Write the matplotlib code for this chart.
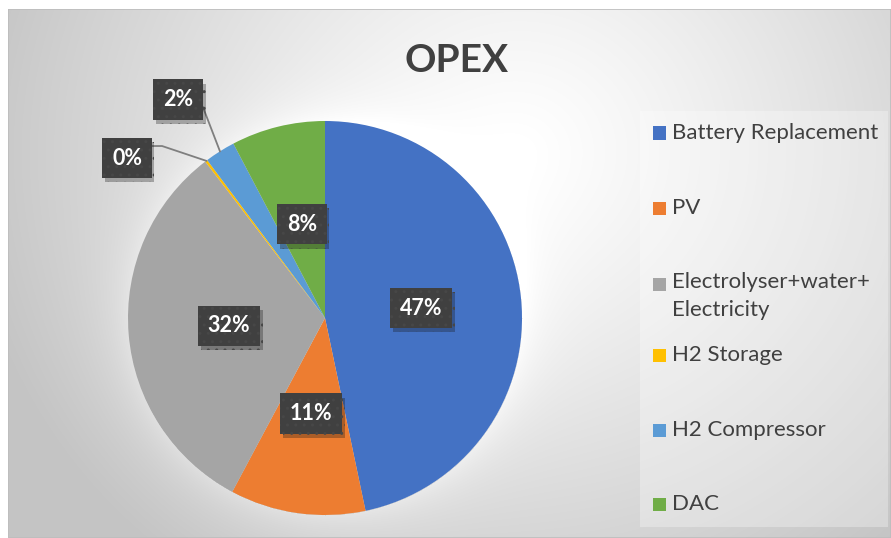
import numpy as np
import matplotlib
matplotlib.use("Agg")
import matplotlib.pyplot as plt
from matplotlib.patches import Rectangle
import matplotlib.patheffects as pe

plt.rcParams['font.family'] = ['Lato', 'DejaVu Sans']

# ---- data ----
categories = ["Battery Replacement", "PV", "Electrolyser+water+\nElectricity",
              "H2 Storage", "H2 Compressor", "DAC"]
values = [46.7, 11.1, 31.8, 0.2, 2.5, 7.7]
pct_labels = ["47%", "11%", "32%", "0%", "2%", "8%"]
colors = ["#4472C4", "#ED7D31", "#A5A5A5", "#FFC000", "#5B9BD5", "#70AD47"]
title = "OPEX"

W, H = 891, 538
fig = plt.figure(figsize=(W / 100, H / 100), dpi=100)
fig.patch.set_facecolor("white")

# ---- background (chart area with radial gradient) ----
bx0, by0, bx1, by1 = 8, 9, 891, 538
bg = fig.add_axes([bx0 / W, 1 - by1 / H, (bx1 - bx0) / W, (by1 - by0) / H])
bg.set_axis_off()
yy, xx = np.mgrid[by0:by1, bx0:bx1].astype(float)
cx, cy = 520, 150
t = np.sqrt(((xx - cx) / 560) ** 2 + ((yy - cy) / 520) ** 2)
t = np.clip(t, 0, 1)
g = 1.0 - (1.0 - 0.77) * t ** 1.2
pcx, pcy, pr = 325, 318, 197
d = np.sqrt((xx - pcx) ** 2 + (yy - pcy) ** 2) - pr
halo = np.exp(-np.clip(d, 0, None) / 25.0) * (d > 0) * 0.06
g = np.clip(g + halo, 0, 1)
img = np.dstack([g, g, g])
bg.imshow(img, extent=[0, 1, 0, 1], aspect="auto", origin="upper",
          interpolation="bilinear")
bg.add_patch(Rectangle((0, 0), 1, 1, transform=bg.transAxes, fill=False,
                       edgecolor="#bdbdbd", linewidth=1.2))
bg.set_xlim(0, 1)
bg.set_ylim(0, 1)

# ---- pie ----
ax = fig.add_axes([(pcx - pr) / W, 1 - (pcy + pr) / H, 2 * pr / W, 2 * pr / H])
wedges, _ = ax.pie(values, colors=colors, startangle=90, counterclock=False,
                   radius=1.0, wedgeprops=dict(linewidth=0))
ax.set_xlim(-1, 1)
ax.set_ylim(-1, 1)
ax.set_aspect("equal")
ax.set_axis_off()

box = dict(boxstyle="square,pad=0.45", facecolor="#404040", edgecolor="#474747",
           hatch="..", linewidth=0)

def label_box(x, y, s):
    txt = ax.text(x, y, s, ha="center", va="center", color="white",
                  fontsize=15.5, fontweight="bold", bbox=box, zorder=5)
    txt.get_bbox_patch().set_path_effects(
        [pe.SimplePatchShadow(offset=(2, -3), alpha=0.3), pe.Normal()])
    txt.set_clip_on(False)
    return txt

outside = {3: (-1.005, 0.812), 4: (-0.746, 1.109)}
for i, w in enumerate(wedges):
    mid = np.deg2rad((w.theta1 + w.theta2) / 2)
    if i in outside:
        ex, ey = np.cos(mid), np.sin(mid)
        lx, ly = outside[i]
        if i == 3:
            xs = [lx + 0.127, lx + 0.178, ex]
            ys = [ly + 0.061, ly + 0.061, ey]
        else:
            xs = [lx + 0.127, ex]
            ys = [ly - 0.04, ey]
        ax.plot(xs, ys, color="#7f7f7f", linewidth=1.3, zorder=4,
                clip_on=False)
        label_box(lx, ly, pct_labels[i])
    else:
        r = 0.49
        label_box(r * np.cos(mid), r * np.sin(mid), pct_labels[i])

# ---- title ----
fig.text(457 / W, 1 - 60 / H, title, ha="center", va="center",
         fontsize=28, fontweight="bold", color="#404040")

# ---- legend (drawn manually to match the entry layout) ----
lx0, ly0, lx1, ly1 = 640, 111, 888, 527
fig.patches.append(Rectangle((lx0 / W, 1 - ly1 / H), (lx1 - lx0) / W,
                             (ly1 - ly0) / H, transform=fig.transFigure,
                             facecolor="white", alpha=0.3, edgecolor="none",
                             zorder=1))
entry_y = [133, 208, 284, 355, 430, 504]
sq = 13
for cat, col, ey in zip(categories, colors, entry_y):
    fig.patches.append(Rectangle((653 / W, 1 - (ey + sq / 2) / H), sq / W, sq / H,
                                 transform=fig.transFigure, facecolor=col,
                                 edgecolor="none", zorder=3))
    multi = "\n" in cat
    fig.text(672 / W, 1 - (ey - 12 if multi else ey) / H, cat, ha="left",
             va="top" if multi else "center",
             fontsize=16, color="#404040", linespacing=1.5, zorder=3)

fig.savefig("out.png", dpi=100)
